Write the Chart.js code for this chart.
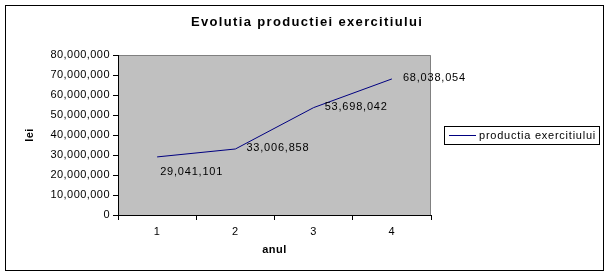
<!DOCTYPE html>
<html><head><meta charset="utf-8">
<script src="https://cdn.jsdelivr.net/npm/chart.js@4"></script>
<style>html,body{margin:0;padding:0;background:#fff}#c{display:block}</style>
</head><body>
<canvas id="c" width="612" height="276"></canvas>
<script>
const categories = ['1', '2', '3', '4'];
const productia = [29041101, 33006858, 53698042, 68038054];
const seriesName = 'productia exercitiului';
const chartTitle = 'Evolutia productiei exercitiului';
const xTitle = 'anul';
const yTitle = 'lei';
const yMin = 0, yMax = 80000000, yStep = 10000000;
const labelOffsets = [[3, 15], [11, -1], [11, -1], [11, -1]];

const FONT = "'Liberation Sans', Arial, sans-serif";
const fmt = v => Math.round(v).toLocaleString('en-US');

function fitText(ctx, text, x, y, width) {
  ctx.letterSpacing = '0px';
  const w = ctx.measureText(text).width;
  const sp = Math.max(0, (width - w) / text.length);
  ctx.letterSpacing = sp.toFixed(2) + 'px';
  ctx.fillText(text, x, y);
}

const decor = {
  id: 'decor',
  beforeDraw(chart) {
    const {ctx, chartArea: a} = chart;
    ctx.save();
    ctx.fillStyle = '#fff';
    ctx.fillRect(0, 0, chart.width, chart.height);
    ctx.fillStyle = '#c0c0c0';
    ctx.fillRect(a.left, a.top, a.right - a.left, a.bottom - a.top);
    ctx.strokeStyle = '#808080';
    ctx.lineWidth = 1;
    ctx.beginPath();
    ctx.moveTo(a.left, a.top + 0.5);
    ctx.lineTo(a.right - 0.5, a.top + 0.5);
    ctx.lineTo(a.right - 0.5, a.bottom);
    ctx.stroke();
    ctx.restore();
    ctx.letterSpacing = '0.45px';
  },
  afterDraw(chart) {
    const {ctx} = chart;
    ctx.save();
    ctx.strokeStyle = '#000';
    ctx.lineWidth = 1;
    ctx.strokeRect(5.5, 5.5, 598, 265);
    ctx.fillStyle = '#000';
    ctx.font = 'bold 13px ' + FONT;
    ctx.textAlign = 'left';
    ctx.textBaseline = 'middle';
    fitText(ctx, chartTitle, 191, 22, 232);
    ctx.font = '11px ' + FONT;
    ctx.letterSpacing = '0.8px';
    const meta = chart.getDatasetMeta(0);
    meta.data.forEach((pt, i) => {
      const [dx, dy] = labelOffsets[i];
      ctx.fillText(fmt(chart.data.datasets[0].data[i]), pt.x + dx, pt.y + dy);
    });
    ctx.strokeStyle = '#000';
    ctx.letterSpacing = '0px';
    ctx.strokeRect(444.5, 126.5, 155, 18);
    ctx.strokeStyle = '#000080';
    ctx.beginPath();
    ctx.moveTo(449, 135.5);
    ctx.lineTo(476, 135.5);
    ctx.stroke();
    ctx.fillStyle = '#000';
    fitText(ctx, chart.data.datasets[0].label, 479, 135.5, 117);
    ctx.restore();
    ctx.letterSpacing = '0px';
  }
};

new Chart(document.getElementById('c'), {
  type: 'line',
  data: {
    labels: categories,
    datasets: [{
      label: seriesName,
      data: productia,
      borderColor: '#000080',
      borderWidth: 1,
      pointRadius: 0,
      tension: 0,
      fill: false
    }]
  },
  options: {
    responsive: false,
    animation: false,
    devicePixelRatio: 1,
    layout: {padding: {left: 0, top: 55, right: 181, bottom: 0}},
    plugins: {legend: {display: false}, title: {display: false}, tooltip: {enabled: false}},
    scales: {
      x: {
        offset: true,
        afterFit: s => { s.height = 61; },
        grid: {offset: true, drawOnChartArea: false, drawTicks: true, tickLength: 5, tickColor: '#000'},
        border: {color: '#000', width: 1},
        ticks: {color: '#000', font: {family: FONT, size: 11}, padding: 5, maxRotation: 0},
        title: {display: true, text: xTitle, color: '#000', font: {family: FONT, size: 11, weight: 'bold'}, padding: {top: 0, bottom: 19}}
      },
      y: {
        min: yMin, max: yMax,
        afterFit: s => { s.width = 118; },
        grid: {drawOnChartArea: false, drawTicks: true, tickLength: 5, tickColor: '#000'},
        border: {color: '#000', width: 1},
        ticks: {stepSize: yStep, color: '#000', font: {family: FONT, size: 11}, padding: 3, callback: v => fmt(v)},
        title: {display: true, text: yTitle, color: '#000', font: {family: FONT, size: 11, weight: 'bold'}, padding: {top: 23, bottom: 0}}
      }
    }
  },
  plugins: [decor]
});
</script>
</body></html>
